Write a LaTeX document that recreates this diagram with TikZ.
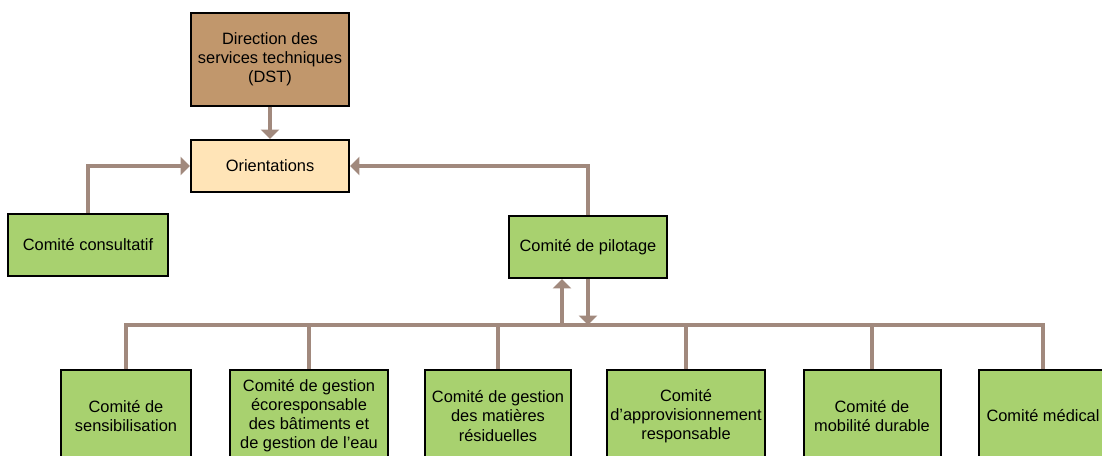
\documentclass[tikz,border=0pt]{standalone}
\usepackage{fontspec}
\setmainfont{Liberation Sans}
\usetikzlibrary{arrows.meta}
\definecolor{dstbrown}{RGB}{193,151,108}
\definecolor{orientyellow}{RGB}{255,228,183}
\definecolor{comitegreen}{RGB}{168,209,111}
\definecolor{linkgray}{RGB}{161,137,125}
\begin{document}
\begin{tikzpicture}[x=0.75pt,y=-0.75pt,
	box/.style={draw=black, line width=1.5pt, align=center, inner sep=1pt,
		font=\fontsize{12.3pt}{14.3pt}\selectfont},
	comite/.style={box, fill=comitegreen, minimum height=69pt},
	link/.style={draw=linkgray, line width=2.6pt},
	linkarrow/.style={link, -{Triangle[width=13.5pt,length=7pt]}}]
	\useasboundingbox (0,0) rectangle (1102,455);
	% haut
	\node[box, fill=dstbrown, minimum width=118.5pt, minimum height=69.75pt] (dst) at (270,59) {Direction des\\services techniques\\(DST)};
	\node[box, fill=orientyellow, minimum width=118.5pt, minimum height=39pt] (orient) at (270,166) {Orientations};
	\node[comite, minimum width=120pt, minimum height=46.5pt] (consult) at (88,245) {Comité consultatif};
	\node[comite, minimum width=118.5pt, minimum height=46.5pt] (pilot) at (588,247) {Comité de pilotage};
	% comites
	\node[comite, minimum width=97.5pt] (sensib) at (126,416) {Comité de\\sensibilisation};
	\node[comite, minimum width=118.5pt] (batim) at (309,416) {Comité de gestion\\écoresponsable\\des bâtiments et\\de gestion de l’eau};
	\node[comite, minimum width=109.5pt] (matier) at (498,416) {Comité de gestion\\des matières\\résiduelles};
	\node[comite, minimum width=118.5pt] (approv) at (686,416) {Comité\\d’approvisionnement\\responsable};
	\node[comite, minimum width=102.75pt] (mobil) at (872,416) {Comité de\\mobilité durable};
	\node[comite, minimum width=96pt] (medic) at (1043,416) {Comité médical};
	\coordinate (bus) at (0,325);
	\coordinate (up) at ([xshift=-19.5pt]pilot.south);
	\draw[linkarrow] (dst.south) -- (orient.north);
	\draw[linkarrow] (consult.north) |- (orient.west);
	\draw[linkarrow] (pilot.north) |- (orient.east);
	\draw[link] (sensib.north) |- (bus -| medic.north) -- (medic.north);
	\foreach \c in {batim,matier,approv,mobil}
		\draw[link] (\c.north) -- (\c.north |- bus);
	\draw[linkarrow] (pilot.south) -- (pilot.south |- bus);
	\draw[linkarrow] (up |- bus) -- (up);
\end{tikzpicture}
\end{document}
